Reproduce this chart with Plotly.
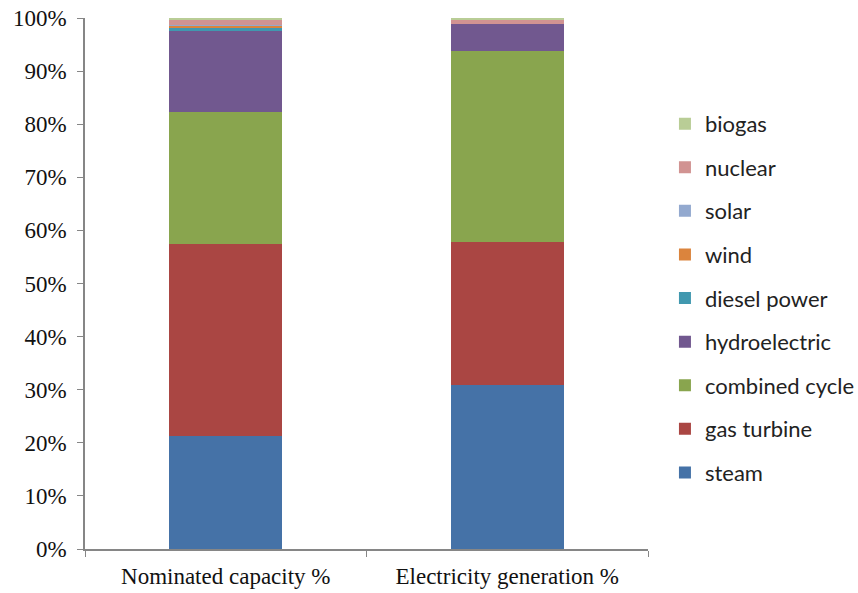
import plotly.graph_objects as go

categories = ["Nominated capacity %", "Electricity generation %"]

sources = ["steam", "gas turbine", "combined cycle", "hydroelectric",
           "diesel power", "wind", "solar", "nuclear", "biogas"]

steam = [21.3, 30.9]
gas_turbine = [36.1, 26.9]
combined_cycle = [24.9, 36.0]
hydroelectric = [15.3, 5.0]
diesel_power = [0.6, 0.0]
wind = [0.3, 0.0]
solar = [0.1, 0.0]
nuclear = [1.2, 1.0]
biogas = [0.2, 0.2]

series = [steam, gas_turbine, combined_cycle, hydroelectric,
          diesel_power, wind, solar, nuclear, biogas]

colors = ["#4572A7", "#AA4643", "#89A54E", "#71588F", "#4198AF",
          "#DB843D", "#93A9CF", "#D19392", "#B9CD96"]

fig = go.Figure()
for i, (name, vals, col) in enumerate(zip(sources, series, colors)):
    fig.add_trace(go.Bar(
        x=categories, y=[v / 100 for v in vals], name=name,
        marker=dict(color=col, line=dict(width=0)),
        legendgroup=name,
        legendrank=100 - i,
    ))

fig.update_layout(
    barmode="stack",
    bargap=0.6,
    width=858, height=593,
    margin=dict(l=85, r=210, t=18, b=44),
    plot_bgcolor="white", paper_bgcolor="white",
    showlegend=True,
    legend=dict(
        traceorder="grouped", tracegroupgap=12,
        xref="container", yref="container",
        x=0.775, xanchor="left", y=0.8266, yanchor="top",
        font=dict(family="Lato", size=22, color="#222"),
        itemwidth=30, maxheight=560,
    ),
    xaxis=dict(
        showline=True, linecolor="#868686", linewidth=1.5,
        ticks="outside", tickson="boundaries", ticklen=6, tickcolor="#868686",
        tickfont=dict(family="Liberation Serif", size=23, color="#111"),
        ticklabelstandoff=6, automargin=False,
        showgrid=False,
    ),
    yaxis=dict(
        range=[0, 1], tickformat=".0%", dtick=0.1,
        showline=True, linecolor="#868686", linewidth=1.5,
        ticks="outside", ticklen=6, tickcolor="#868686",
        tickfont=dict(family="Liberation Serif", size=23, color="#111"),
        ticklabelstandoff=6, automargin=False,
        showgrid=False, zeroline=False,
    ),
)

fig.write_html("out.html")
